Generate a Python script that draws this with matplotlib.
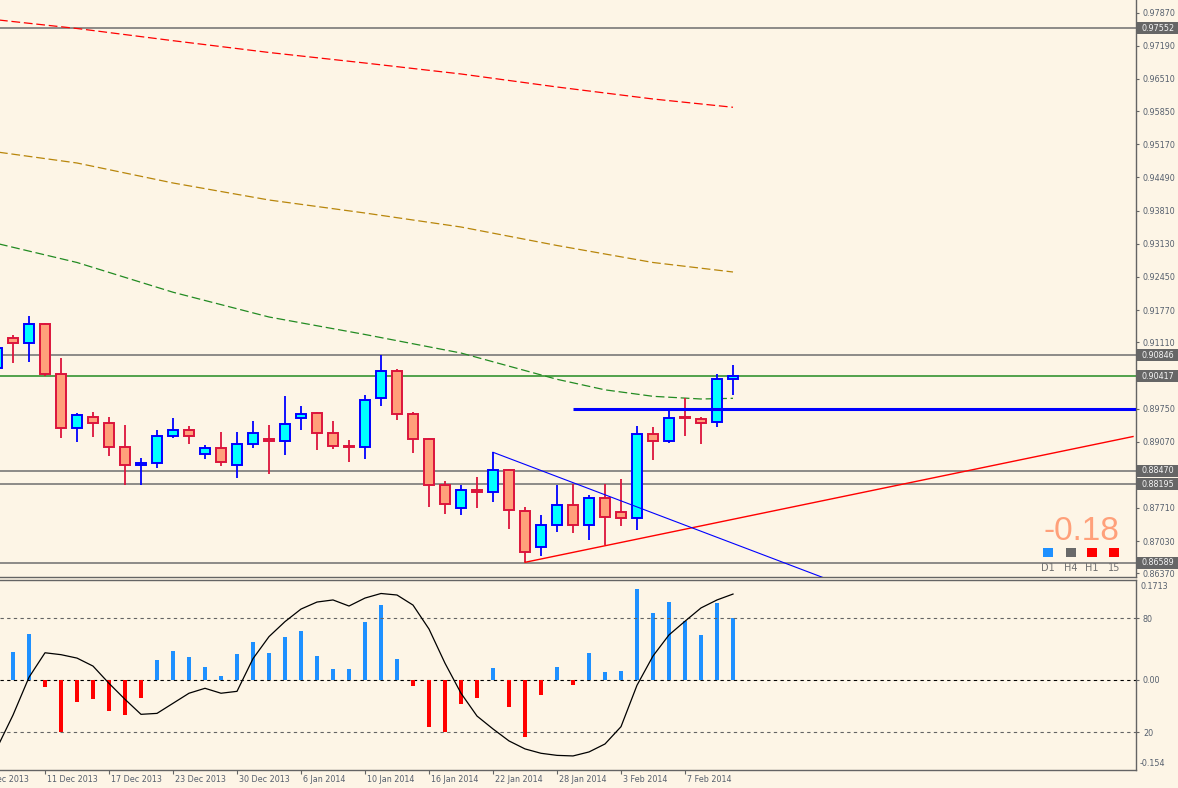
import matplotlib
matplotlib.use('Agg')
import matplotlib.pyplot as plt
import matplotlib.transforms as mtransforms
from matplotlib.patches import Rectangle

# ---------------- data ----------------
candle_idx = list(range(-1, 46))
opens = [0.90582, 0.91191, 0.91088, 0.91478, 0.90453, 0.89345, 0.89570, 0.89447, 0.88955, 0.88586,
         0.88627, 0.89181, 0.89304, 0.88811, 0.88935, 0.88586, 0.89017, 0.89119, 0.89078, 0.89550,
         0.89653, 0.89242, 0.88982, 0.88955, 0.89960, 0.90514, 0.89632, 0.89119, 0.88176, 0.87704,
         0.88073, 0.88032, 0.88483, 0.87642, 0.86904, 0.87355, 0.87765, 0.87355, 0.87909, 0.87622,
         0.87499, 0.89222, 0.89078, 0.89570, 0.89529, 0.89468, 0.90350]
highs = [0.91054, 0.91259, 0.91648, 0.91499, 0.90781, 0.89665, 0.89679, 0.89570, 0.89413, 0.88729,
         0.89310, 0.89550, 0.89392, 0.89002, 0.89263, 0.89263, 0.89495, 0.89413, 0.90014, 0.89802,
         0.89679, 0.89495, 0.89105, 0.90028, 0.90848, 0.90555, 0.89679, 0.89140, 0.88264, 0.88176,
         0.88346, 0.88853, 0.88504, 0.87724, 0.87566, 0.88176, 0.88196, 0.87970, 0.88196, 0.88299,
         0.89386, 0.89365, 0.89761, 0.89960, 0.89570, 0.90459, 0.90643]
lows = [0.90541, 0.90678, 0.90711, 0.90418, 0.89140, 0.89070, 0.89173, 0.88783, 0.88182, 0.88182,
        0.88524, 0.89140, 0.89029, 0.88721, 0.88578, 0.88331, 0.88947, 0.88401, 0.88803, 0.89316,
        0.88906, 0.88926, 0.88660, 0.88721, 0.89808, 0.89521, 0.88844, 0.87737, 0.87593, 0.87573,
        0.87716, 0.87839, 0.87285, 0.86596, 0.86731, 0.87224, 0.87203, 0.87060, 0.86957, 0.87347,
        0.87265, 0.88701, 0.89049, 0.89193, 0.89029, 0.89378, 0.90034]
closes = [0.90992, 0.91088, 0.91478, 0.90453, 0.89345, 0.89611, 0.89447, 0.88955, 0.88586, 0.88627,
          0.89181, 0.89304, 0.89181, 0.88935, 0.88647, 0.89017, 0.89242, 0.89078, 0.89427, 0.89632,
          0.89242, 0.88976, 0.88955, 0.89919, 0.90514, 0.89632, 0.89119, 0.88176, 0.87786, 0.88073,
          0.88032, 0.88483, 0.87663, 0.86801, 0.87355, 0.87765, 0.87355, 0.87909, 0.87519, 0.87499,
          0.89222, 0.89078, 0.89550, 0.89550, 0.89447, 0.90350, 0.90417]

ma_idx = [-1, 4, 10, 16, 22, 28, 34, 40, 45]
ma_red = [0.97724, 0.97546, 0.97296, 0.97054, 0.96838, 0.96613, 0.96346, 0.96100, 0.95930]
ma_orange = [0.95013, 0.94787, 0.94377, 0.94028, 0.93761, 0.93474, 0.93095, 0.92746, 0.92551]
ma_green_idx = [-1, 4, 10, 16, 22, 28, 34, 37, 40, 43, 45]
ma_green = [0.93136, 0.92746, 0.92136, 0.91628, 0.91269, 0.90889, 0.90350, 0.90134, 0.90001, 0.89946, 0.89960]

level_gray = [0.97552, 0.90846, 0.88470, 0.88195, 0.86589]
level_green = 0.90417
level_blue = 0.89750
level_blue_start = 35
red_trend_idx = [32, 70]
red_trend_val = [0.86596, 0.89176]
blue_trend_idx = [30, 51]
blue_trend_val = [0.88853, 0.86237]

price_ticks = [0.97870, 0.97190, 0.96510, 0.95850, 0.95170, 0.94490, 0.93810, 0.93130, 0.92450,
               0.91770, 0.91110, 0.89750, 0.89070, 0.87710, 0.87030, 0.86370]
box_labels = [0.97552, 0.90846, 0.90417, 0.88470, 0.88195, 0.86589]

hist_idx = list(range(0, 46))
hist_vals = [0.0517, 0.0845, -0.0129, -0.0961, -0.0407, -0.0351, -0.0573, -0.0647, -0.0333, 0.0364,
             0.0530, 0.0419, 0.0235, 0.0068, 0.0475, 0.0697, 0.0493, 0.0789, 0.0900, 0.0438,
             0.0198, 0.0198, 0.1066, 0.1380, 0.0383, -0.0116, -0.0869, -0.0961, -0.0444, -0.0333,
             0.0216, -0.0499, -0.1053, -0.0277, 0.0235, -0.0092, 0.0493, 0.0142, 0.0161, 0.1676,
             0.1233, 0.1436, 0.1085, 0.0826, 0.1417, 0.1140]
stoch_vals = [11.6, 28.9, 48.8, 61.7, 60.7, 58.9, 54.7, 45.6, 37.2, 29.3, 29.8, 35.1, 40.4, 43.0,
              40.4, 41.4, 58.6, 70.2, 78.1, 84.7, 88.4, 89.5, 86.3, 90.5, 92.9, 92.1, 86.8, 74.2,
              56.2, 40.4, 28.4, 21.6, 15.3, 11.1, 8.8, 7.7, 7.4, 9.5, 13.7, 22.8, 44.6, 60.0, 71.1,
              78.3, 85.3, 89.5, 92.6]

date_idx = [-2, 2, 6, 10, 14, 18, 22, 26, 30, 34, 38, 42]
date_labels = ['5 Dec 2013', '11 Dec 2013', '17 Dec 2013', '23 Dec 2013', '30 Dec 2013', '6 Jan 2014',
               '10 Jan 2014', '16 Jan 2014', '22 Jan 2014', '28 Jan 2014', '3 Feb 2014', '7 Feb 2014']

strength_value = '-0.18'
tf_labels = ['D1', 'H4', 'H1', '15']
tf_colors = ['#1E90FF', '#696969', '#FF0000', '#FF0000']

# ---------------- style ----------------
W, H = 1178, 788
BG = '#FDF5E6'
FG = '#646464'
TXT = '#56606E'
FS = 5.8
plt.rcParams['font.family'] = ['DejaVu Sans']

fig = plt.figure(figsize=(W / 100, H / 100), dpi=100, facecolor=BG)
ax = fig.add_axes([0, 1 - 577 / H, 1136 / W, 577 / H], facecolor=BG)
ax2 = fig.add_axes([0, 1 - 770 / H, 1136 / W, 190 / H], facecolor=BG)

xl = (-0.8125, 70.1875)
for a in (ax, ax2):
    a.set_xlim(*xl)
    for s in a.spines.values():
        s.set_color(FG)
        s.set_linewidth(1.0)
ax.set_ylim(0.862946, 0.981305)

# horizontal levels
for lv in level_gray:
    ax.axhline(lv, color='#6E6E6E', lw=1.1, zorder=1)
ax.axhline(level_green, color='#228B22', lw=1.1, zorder=1)
ax.hlines(level_blue, level_blue_start, xl[1], color='#0000FF', lw=2.2, zorder=4)

# moving averages
ax.plot(ma_idx, ma_red, color='#FF0000', lw=0.9, ls=(0, (7, 3)), zorder=2)
ax.plot(ma_idx, ma_orange, color='#B8860B', lw=0.9, ls=(0, (7, 3)), zorder=2)
ax.plot(ma_green_idx, ma_green, color='#228B22', lw=0.9, ls=(0, (7, 3)), zorder=2)

# trend lines
ax.plot(red_trend_idx, red_trend_val, color='#FF0000', lw=1.0, zorder=5)
ax.plot(blue_trend_idx, blue_trend_val, color='#0000FF', lw=0.8, zorder=5)

# candles
for k, o, h, l, c in zip(candle_idx, opens, highs, lows, closes):
    bull = c >= o
    edge = '#0000FF' if bull else '#DC143C'
    face = '#00FFFF' if bull else '#FFA07A'
    ax.vlines(k, l, h, color=edge, lw=1.3, zorder=3)
    ax.bar(k, max(abs(c - o), 0.00004), bottom=min(o, c), width=0.58, color=face,
           edgecolor=edge, linewidth=1.4, zorder=3.5)

# right price axis
ax.spines['left'].set_visible(False)
ax.spines['top'].set_visible(False)
ax.yaxis.tick_right()
ax.set_yticks(price_ticks)
ax.set_yticklabels([f'{v:.5f}' for v in price_ticks])
ax.tick_params(axis='y', length=2.5, width=0.8, colors=FG, labelcolor=TXT, labelsize=FS, pad=2.5)
ax.set_xticks([])

btrans = mtransforms.blended_transform_factory(ax.transAxes, ax.transData)
bh = 12 / 4875
for v in box_labels:
    ax.add_patch(Rectangle((1.0012, v - bh / 2), 0.0365, bh, transform=btrans,
                           facecolor='#666666', edgecolor='none', clip_on=False, zorder=10))
    ax.text(1.0045, v, f'{v:.5f}', transform=btrans, ha='left', va='center', fontsize=FS,
            color='#F4F4F4', zorder=11, clip_on=False)

# lower panel: histogram + oscillator
ax2.set_ylim(-0.1669, 0.1842)
colors = ['#1E90FF' if v >= 0 else '#FF0000' for v in hist_vals]
ax2.bar(hist_idx, hist_vals, width=0.2, color=colors, zorder=2)
ax2.axhline(0, color='black', lw=0.8, ls=(0, (3, 3)), zorder=1)
ax2.spines['left'].set_visible(False)

ax3 = ax2.twinx()
ax3.set_xlim(*xl)
ax3.set_ylim(0, 100)
for s in ax3.spines.values():
    s.set_visible(False)
ax3.axhline(80, color='#646464', lw=0.8, ls=(0, (3, 3)), zorder=1)
ax3.axhline(20, color='#646464', lw=0.8, ls=(0, (3, 3)), zorder=1)
ax3.plot(candle_idx, stoch_vals, color='black', lw=0.9, zorder=3)
ax3.yaxis.tick_right()
ax3.set_yticks([80, 20])
ax3.set_yticklabels(['80', '20'])
ax3.tick_params(axis='y', length=2.5, width=0.8, colors=FG, labelcolor=TXT, labelsize=FS, pad=2.5)

# twinx moves the base ticks to the left; put them back on the right
ax2.yaxis.tick_right()
ax2.set_yticks([0])
ax2.set_yticklabels(['0.00'])
ax2.tick_params(axis='y', which='both', left=False, labelleft=False, right=True, labelright=True,
                length=2.5, width=0.8, colors=FG, labelcolor=TXT, labelsize=FS, pad=2.5)

t2 = mtransforms.blended_transform_factory(ax2.transAxes, ax2.transData)
ax2.text(1 + 4 / 1136, 0.1713, '0.1713', transform=t2, ha='left', va='center', fontsize=FS, color=TXT, clip_on=False)
ax2.text(1 + 4 / 1136, -0.154, '-0.154', transform=t2, ha='left', va='center', fontsize=FS, color=TXT, clip_on=False)

# date axis
vis = [d for d in date_idx if xl[0] <= d <= xl[1]]
ax2.set_xticks(vis)
ax2.set_xticklabels([''] * len(vis))
ax2.tick_params(axis='x', length=3, width=0.8, colors=FG)
dtrans = mtransforms.blended_transform_factory(ax2.transData, ax2.transAxes)
dtrans = mtransforms.offset_copy(dtrans, fig=fig, x=2, y=0, units='dots')
for d, lab in zip(date_idx, date_labels):
    ax2.text(d, -9 / 190, lab, transform=dtrans, ha='left', va='center', fontsize=FS,
             color=TXT, clip_on=False)

# strength indicator
fig.text(1081 / W, 1 - 531 / H, strength_value, ha='center', va='center', fontsize=24,
         color='#FFA07A', family='Liberation Sans')
for i, (lab, col) in enumerate(zip(tf_labels, tf_colors)):
    cx = [1048, 1071, 1092, 1114][i]
    fig.patches.append(Rectangle(((cx - 5) / W, 1 - 557 / H), 10 / W, 9 / H,
                                 transform=fig.transFigure, facecolor=col, edgecolor='none'))
    fig.text(cx / W, 1 - 568 / H, lab, ha='center', va='center', fontsize=7, color='#707070')

fig.savefig('out.png', dpi=100, facecolor=BG)
